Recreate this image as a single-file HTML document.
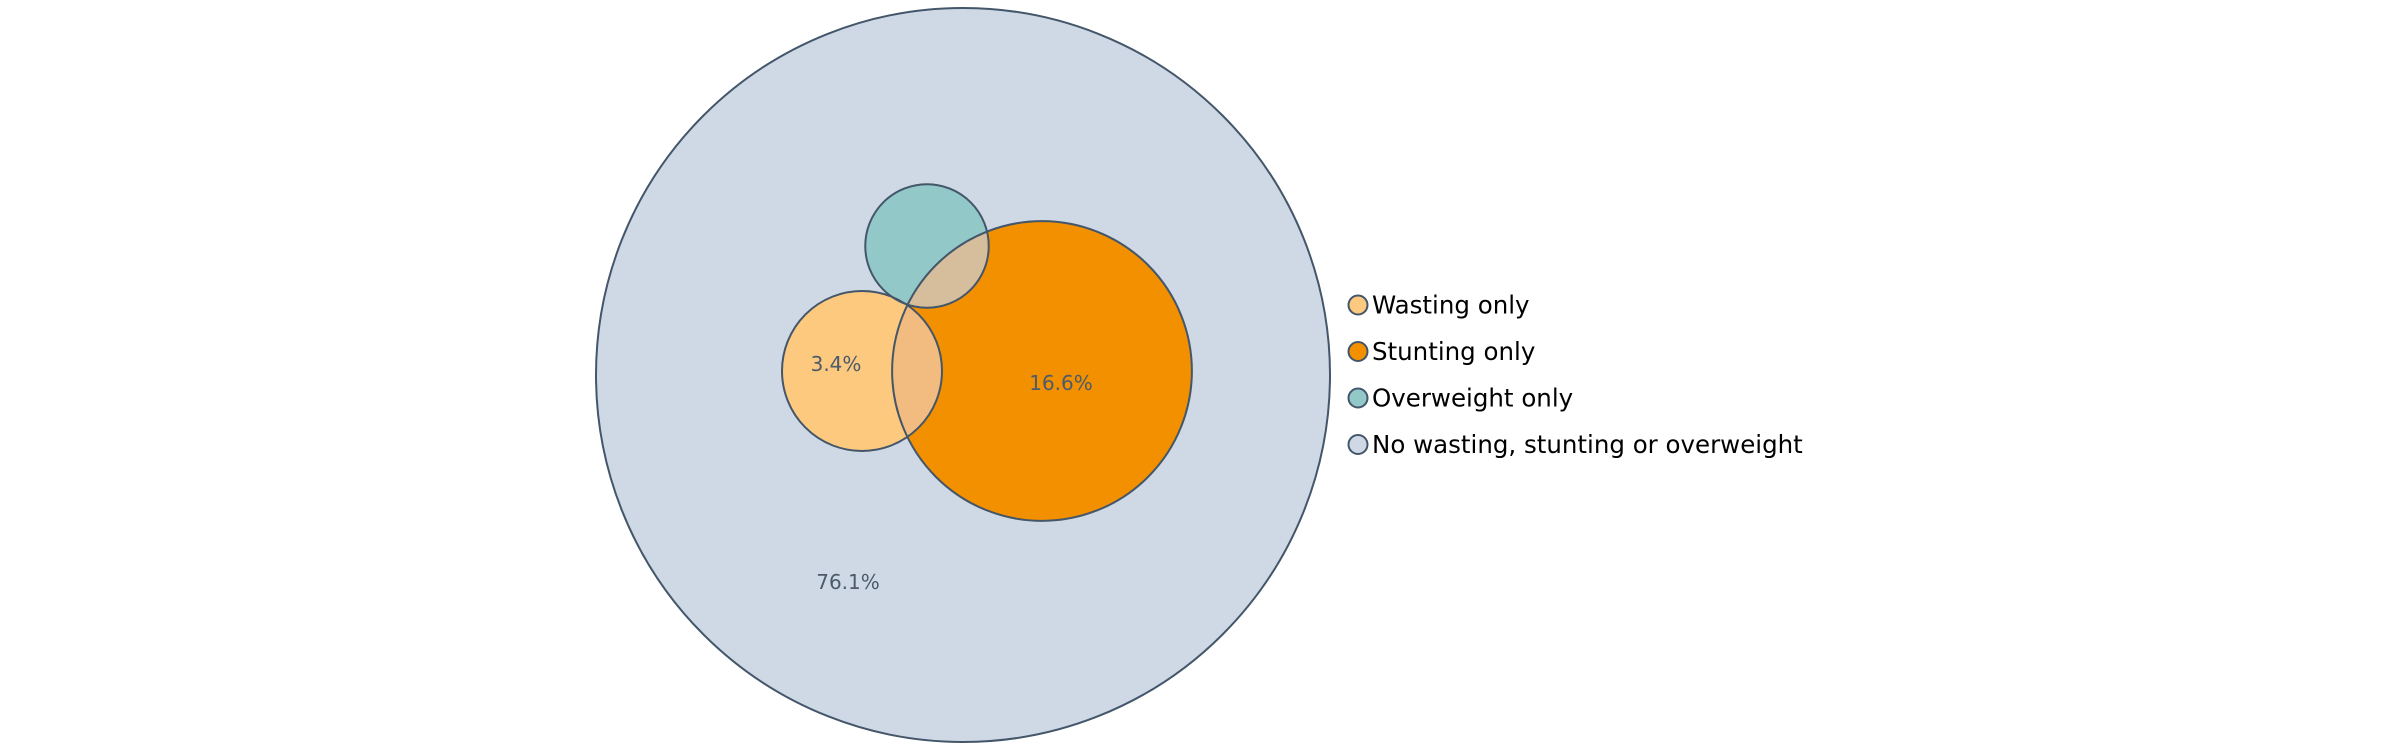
<!DOCTYPE html>
<html><head><meta charset="utf-8"><style>
html,body{margin:0;padding:0;background:#fff;}
svg{display:block;}
</style></head><body>
<svg id="chart" width="2400" height="750" viewBox="0 0 2400 750" xmlns="http://www.w3.org/2000/svg">
</svg>
<script>
// Set totals (% of children), used to size circles (area-proportional)
const setNames = ["wasting", "stunting", "overweight"];
const setTotals = [4.7, 16.5, 2.8];
const universeTotal = 100;
// Region labels
const regionLabels = ["3.4%", "16.6%", "76.1%"];
const legendLabels = ["Wasting only", "Stunting only", "Overweight only", "No wasting, stunting or overweight"];

const NS = "http://www.w3.org/2000/svg";
const svg = document.getElementById("chart");
const stroke = "#43566a";
const colors = ["#fcc97e", "#f39000", "#93c8c8", "#cfd9e5"];
const R = 367, CX = 963, CY = 375;
function rad(v){ return 369 * Math.sqrt(v / universeTotal); }
// layout offsets (relative to universe center)
const offsets = [[-101, -4], [79, -4], [-36, -129]];
const circles = setTotals.map((v, i) => ({ cx: CX + offsets[i][0], cy: CY + offsets[i][1], r: rad(v) }));

function mk(tag, attrs){ const e = document.createElementNS(NS, tag); for (const k in attrs) e.setAttribute(k, attrs[k]); return e; }

const defs = mk("defs", {});
svg.appendChild(defs);
circles.forEach((c, i) => {
  const cp = mk("clipPath", { id: "clip" + i });
  cp.appendChild(mk("circle", { cx: c.cx, cy: c.cy, r: c.r }));
  defs.appendChild(cp);
});

const uni = mk("circle", { cx: CX, cy: CY, r: R, fill: colors[3], stroke: stroke, "stroke-width": 2 });


svg.appendChild(uni);

[2, 0, 1].forEach(i => {
  const c = circles[i];
  const e = mk("circle", { cx: c.cx, cy: c.cy, r: c.r, fill: colors[i] });
  
  
  svg.appendChild(e);
});
function overlap(a, b, fill, name){
  const g = mk("g", { "clip-path": "url(#clip" + a + ")" });
  const c = circles[b];
  g.appendChild(mk("circle", { cx: c.cx, cy: c.cy, r: c.r, fill: fill }));
  
  
  svg.appendChild(g);
}
overlap(0, 1, "#f2bc80", "wasting-stunting-overlap");
overlap(2, 1, "#d6bd9b", "overweight-stunting-overlap");
circles.forEach((c, i) => {
  const e = mk("circle", { cx: c.cx, cy: c.cy, r: c.r, fill: "none", stroke: stroke, "stroke-width": 2 });
  
  
  svg.appendChild(e);
});

const labelPos = [[circles[0].cx - 26, circles[0].cy - 7], [circles[1].cx + 19, circles[1].cy + 12], [CX - 115, CY + 207]];
const labelNames = ["wasting-only-label", "stunting-only-label", "none-label"];
regionLabels.forEach((t, i) => {
  const e = mk("text", { x: labelPos[i][0], y: labelPos[i][1], "text-anchor": "middle", "dominant-baseline": "central", "font-family": "DejaVu Sans, Liberation Sans, sans-serif", "font-size": 20, fill: "#4b5b6b" });
  e.textContent = t;
  
  
  svg.appendChild(e);
});

const legendY0 = 305, legendStep = 46.5;
legendLabels.forEach((t, i) => {
  const g = mk("g", {});
  
  
  const y = legendY0 + i * legendStep;
  g.appendChild(mk("circle", { cx: 1358, cy: y, r: 9.5, fill: colors[i], stroke: stroke, "stroke-width": 2 }));
  const tx = mk("text", { x: 1372, y: y, "dominant-baseline": "central", "font-family": "DejaVu Sans, Liberation Sans, sans-serif", "font-size": 24.5, fill: "#000" });
  tx.textContent = t;
  g.appendChild(tx);
  svg.appendChild(g);
});
</script>
</body></html>
